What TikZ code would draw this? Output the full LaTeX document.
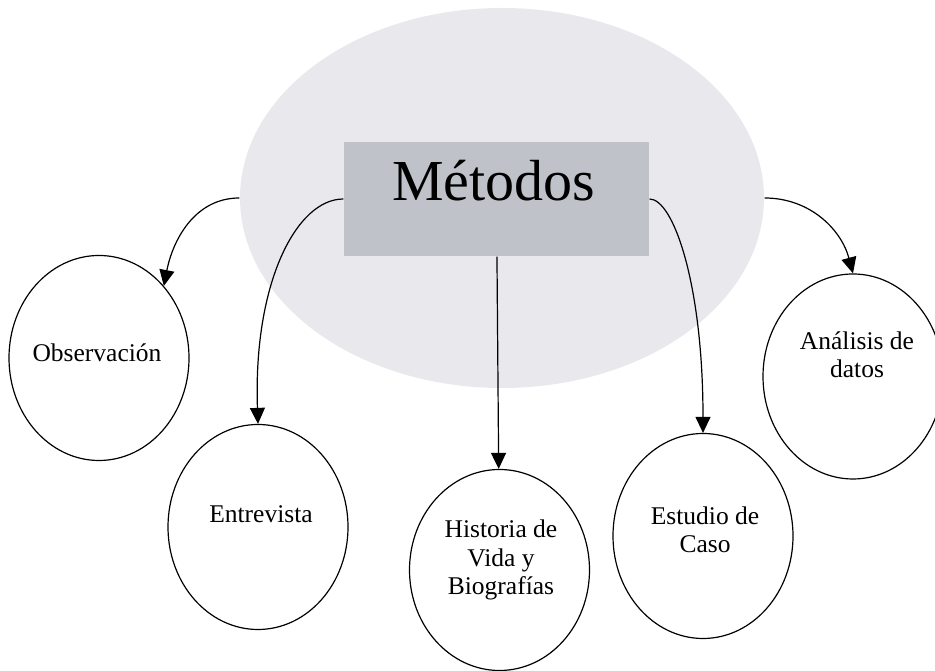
\documentclass[tikz,border=0pt]{standalone}
\usepackage{fontspec}
\setmainfont{Liberation Serif}
\usetikzlibrary{positioning}
\usetikzlibrary{shapes.geometric}
\usetikzlibrary{arrows.meta}

\definecolor{ovalgrey}{RGB}{233,233,237}
\definecolor{boxgrey}{RGB}{192,194,202}

\tikzset{
  oval/.style={ellipse,draw,line width=1.2pt,minimum width=180pt,minimum height=205pt,inner sep=0pt},
  lbl/.style={anchor=base,align=center,inner sep=0pt,font=\fontsize{25.5}{28.5}\selectfont},
}

\begin{document}
\begin{tikzpicture}[x=1pt,y=1pt,->,>={Triangle[length=16pt,width=15pt]},line width=1.2pt]
\useasboundingbox (0,0) rectangle (935,671);
\node[ellipse,fill=ovalgrey,minimum width=524pt,minimum height=380pt] (big) at (502,473) {};
\node[fill=boxgrey,minimum width=305pt,minimum height=114pt] (box) at (496.5,472) {};
\node[anchor=base,font=\fontsize{58}{60}\selectfont] (met) at (493.5,470) {Métodos};

\node[oval] (obs) at (99,313) {};
\node[oval] (ent) at (258,144) {};
\node[oval,minimum height=201pt] (his) at (499.5,101) {};
\node[oval] (est) at (703,135) {};
\node[oval] (ana) at (853,294.5) {};

% base = last line
\node[lbl] (obstxt) at (97,309) {Observación};
\node[lbl] (enttxt) at (261,148) {Entrevista};
\node[lbl] (histxt) at (501,76) {Historia de\\Vida y\\Biografías};
\node[lbl] (esttxt) at (705,118) {Estudio de\\Caso};
\node[lbl] (anatxt) at (857,293) {Análisis de\\datos};

\path (big.west) edge[out=180,in=79] (obs.48)
      (box.west) edge[out=180,in=92,out looseness=.5,in looseness=1.5] (ent.north)
      (box)      edge (his)
      (box.east) edge[out=0,in=90,out looseness=.25,in looseness=1.6] (est.north)
      (big.east) edge[out=0,in=105] (ana.north);
\end{tikzpicture}
\end{document}
